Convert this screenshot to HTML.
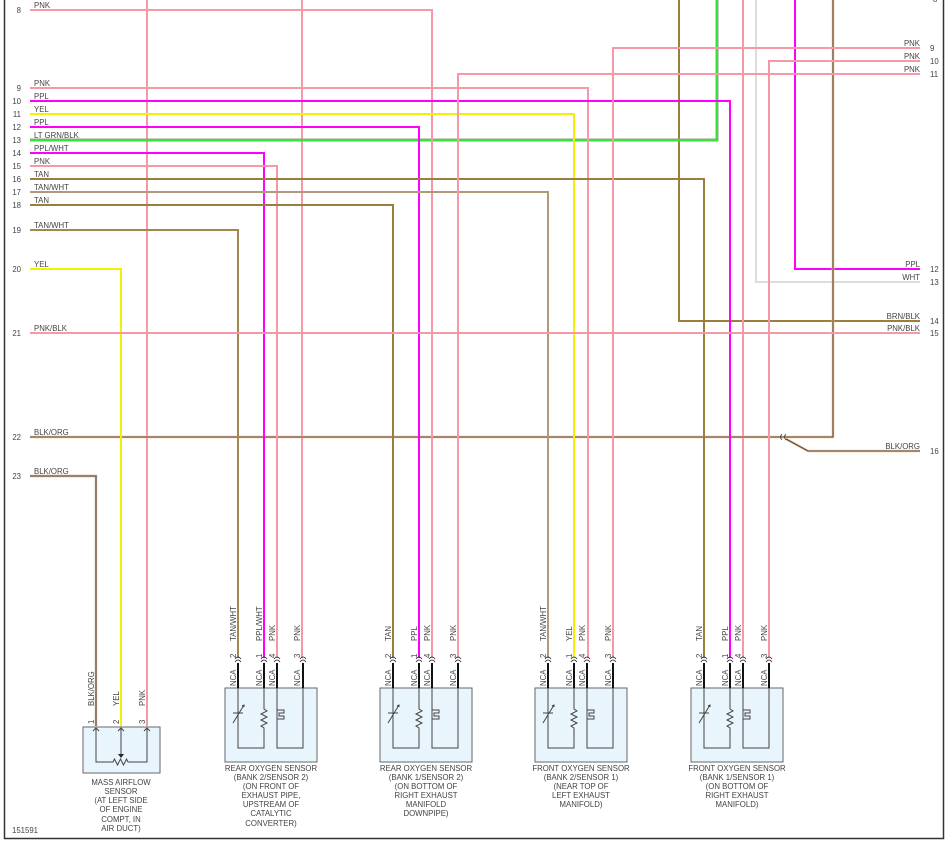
<!DOCTYPE html>
<html><head><meta charset="utf-8"><style>
html,body{margin:0;padding:0;background:#fff;}
svg{display:block;font-family:"Liberation Sans",sans-serif;}
text{fill:#444;font-size:7.8px;}
</style></head><body>
<svg width="951" height="842" viewBox="0 0 951 842" xmlns="http://www.w3.org/2000/svg">
<defs>
<g id="o2">
  <rect x="0" y="688" width="92" height="74" fill="#e9f5fc" stroke="#666" stroke-width="1"/>
  <g stroke="#111" stroke-width="2">
    <line x1="13" y1="663" x2="13" y2="688"/><line x1="39" y1="663" x2="39" y2="688"/>
    <line x1="52" y1="663" x2="52" y2="688"/><line x1="78" y1="663" x2="78" y2="688"/>
  </g>
  <g fill="none" stroke="#222" stroke-width="0.8">
    <path d="M10,662 q3,-4 6,0 M10,659 q3,-4 6,0"/>
    <path d="M36,662 q3,-4 6,0 M36,659 q3,-4 6,0"/>
    <path d="M49,662 q3,-4 6,0 M49,659 q3,-4 6,0"/>
    <path d="M75,662 q3,-4 6,0 M75,659 q3,-4 6,0"/>
  </g>
  <g fill="none" stroke="#444" stroke-width="1">
    <path d="M13,688 V748 H39 V728 l-3,-2 l6,-3 l-6,-3 l6,-3 l-6,-3 l6,-3 l-3,-2 V688"/>
    <path d="M52,688 V748 H78 V688"/>
    <path d="M52,710 h7 v3 h-5 v3 h5 v3 h-7"/>
    <path d="M8,723 L19,705 M17,706 l2,-1 l0,2 M8,713 h10"/>
  </g>
</g>
</defs>

<path d="M4.5,0 V838.5 H943.5 V0" fill="none" stroke="#333" stroke-width="1.5"/>
<text x="933" y="2">8</text>

<g fill="none" stroke-width="2">
  <line x1="147" y1="0" x2="147" y2="726" stroke="#f598a8"/>
  <line x1="302" y1="0" x2="302" y2="658" stroke="#f598a8"/>
  <path d="M679,0 V321 H920" stroke="#9a7e3c"/>
  <path d="M30,140 H717 V0" stroke="#9a9a9a" stroke-width="3"/>
  <path d="M30,140 H717 V0" stroke="#33e633"/>
  <line x1="743" y1="0" x2="743" y2="658" stroke="#f598a8"/>
  <path d="M756,0 V282 H920" stroke="#dcdcdc"/>
  <path d="M795,0 V269 H920" stroke="#ff00ff"/>
  <path d="M30,437 H833 V0" stroke="#f8c490" stroke-width="2.6"/>
  <path d="M30,437 H833 V0" stroke="#4a4a4a" stroke-width="1.1"/>
  <path d="M786,439 L808,451 H920" stroke="#f8c490" stroke-width="2.6"/>
  <path d="M786,439 L808,451 H920" stroke="#4a4a4a" stroke-width="1.1"/>
  <path d="M30,476 H96 V726" stroke="#c8a890" stroke-width="2.4"/>
  <path d="M30,476 H96 V726" stroke="#6a5a50" stroke-width="1.1"/>

  <path d="M30,10 H432 V658" stroke="#f598a8"/>
  <path d="M30,88 H588 V658" stroke="#f598a8"/>
  <path d="M30,101 H730 V658" stroke="#ff00ff"/>
  <path d="M30,114 H574 V658" stroke="#f2f200"/>
  <path d="M30,127 H419 V658" stroke="#ff00ff"/>
  <path d="M30,153 H264 V658" stroke="#ff00ff"/>
  <path d="M30,166 H277 V658" stroke="#f598a8"/>
  <path d="M30,179 H704 V658" stroke="#9a7e3c"/>
  <path d="M30,192 H548 V658" stroke="#b09a7a"/>
  <path d="M30,205 H393 V658" stroke="#9a7e3c"/>
  <path d="M30,230 H238 V658" stroke="#a08850"/>
  <path d="M30,269 H121 V726" stroke="#f2f200"/>
  <line x1="30" y1="333" x2="920" y2="333" stroke="#f598a8"/>
  <path d="M920,48 H613 V658" stroke="#f598a8"/>
  <path d="M920,61 H769 V658" stroke="#f598a8"/>
  <path d="M920,74 H458 V658" stroke="#f598a8"/>
</g>
<path d="M782,434 q-3,3 0,6 M786,434 q-3,3 0,6" fill="none" stroke="#333" stroke-width="0.8"/>

<g text-anchor="end">
<text x="21" y="13">8</text><text x="21" y="91">9</text><text x="21" y="104">10</text>
<text x="21" y="117">11</text><text x="21" y="130">12</text><text x="21" y="143">13</text>
<text x="21" y="156">14</text><text x="21" y="169">15</text><text x="21" y="182">16</text>
<text x="21" y="195">17</text><text x="21" y="208">18</text><text x="21" y="233">19</text>
<text x="21" y="272">20</text><text x="21" y="336">21</text><text x="21" y="440">22</text>
<text x="21" y="479">23</text>
</g>
<g>
<text x="34" y="8">PNK</text><text x="34" y="86">PNK</text><text x="34" y="99">PPL</text>
<text x="34" y="112">YEL</text><text x="34" y="125">PPL</text><text x="34" y="138">LT GRN/BLK</text>
<text x="34" y="151">PPL/WHT</text><text x="34" y="164">PNK</text><text x="34" y="177">TAN</text>
<text x="34" y="190">TAN/WHT</text><text x="34" y="203">TAN</text><text x="34" y="228">TAN/WHT</text>
<text x="34" y="267">YEL</text><text x="34" y="331">PNK/BLK</text><text x="34" y="435">BLK/ORG</text>
<text x="34" y="474">BLK/ORG</text>
</g>
<g text-anchor="end">
<text x="920" y="46">PNK</text><text x="920" y="59">PNK</text><text x="920" y="72">PNK</text>
<text x="920" y="267">PPL</text><text x="920" y="280">WHT</text><text x="920" y="319">BRN/BLK</text>
<text x="920" y="331">PNK/BLK</text><text x="920" y="449">BLK/ORG</text>
</g>
<g>
<text x="930" y="51">9</text><text x="930" y="64">10</text><text x="930" y="77">11</text>
<text x="930" y="272">12</text><text x="930" y="285">13</text><text x="930" y="324">14</text>
<text x="930" y="336">15</text><text x="930" y="454">16</text>
</g>

<use href="#o2" transform="translate(225,0)"/>
<use href="#o2" transform="translate(380,0)"/>
<use href="#o2" transform="translate(535,0)"/>
<use href="#o2" transform="translate(691,0)"/>

<g>
<g transform="translate(236,686) rotate(-90)"><text>NCA</text></g>
<g transform="translate(262,686) rotate(-90)"><text>NCA</text></g>
<g transform="translate(275,686) rotate(-90)"><text>NCA</text></g>
<g transform="translate(300,686) rotate(-90)"><text>NCA</text></g>
<g transform="translate(391,686) rotate(-90)"><text>NCA</text></g>
<g transform="translate(417,686) rotate(-90)"><text>NCA</text></g>
<g transform="translate(430,686) rotate(-90)"><text>NCA</text></g>
<g transform="translate(456,686) rotate(-90)"><text>NCA</text></g>
<g transform="translate(546,686) rotate(-90)"><text>NCA</text></g>
<g transform="translate(572,686) rotate(-90)"><text>NCA</text></g>
<g transform="translate(585,686) rotate(-90)"><text>NCA</text></g>
<g transform="translate(611,686) rotate(-90)"><text>NCA</text></g>
<g transform="translate(702,686) rotate(-90)"><text>NCA</text></g>
<g transform="translate(728,686) rotate(-90)"><text>NCA</text></g>
<g transform="translate(741,686) rotate(-90)"><text>NCA</text></g>
<g transform="translate(767,686) rotate(-90)"><text>NCA</text></g>

<g transform="translate(236,658) rotate(-90)"><text>2</text></g>
<g transform="translate(262,658) rotate(-90)"><text>1</text></g>
<g transform="translate(275,658) rotate(-90)"><text>4</text></g>
<g transform="translate(300,658) rotate(-90)"><text>3</text></g>
<g transform="translate(391,658) rotate(-90)"><text>2</text></g>
<g transform="translate(417,658) rotate(-90)"><text>1</text></g>
<g transform="translate(430,658) rotate(-90)"><text>4</text></g>
<g transform="translate(456,658) rotate(-90)"><text>3</text></g>
<g transform="translate(546,658) rotate(-90)"><text>2</text></g>
<g transform="translate(572,658) rotate(-90)"><text>1</text></g>
<g transform="translate(585,658) rotate(-90)"><text>4</text></g>
<g transform="translate(611,658) rotate(-90)"><text>3</text></g>
<g transform="translate(702,658) rotate(-90)"><text>2</text></g>
<g transform="translate(728,658) rotate(-90)"><text>1</text></g>
<g transform="translate(741,658) rotate(-90)"><text>4</text></g>
<g transform="translate(767,658) rotate(-90)"><text>3</text></g>

<g transform="translate(236,641) rotate(-90)"><text>TAN/WHT</text></g>
<g transform="translate(262,641) rotate(-90)"><text>PPL/WHT</text></g>
<g transform="translate(275,641) rotate(-90)"><text>PNK</text></g>
<g transform="translate(300,641) rotate(-90)"><text>PNK</text></g>
<g transform="translate(391,641) rotate(-90)"><text>TAN</text></g>
<g transform="translate(417,641) rotate(-90)"><text>PPL</text></g>
<g transform="translate(430,641) rotate(-90)"><text>PNK</text></g>
<g transform="translate(456,641) rotate(-90)"><text>PNK</text></g>
<g transform="translate(546,641) rotate(-90)"><text>TAN/WHT</text></g>
<g transform="translate(572,641) rotate(-90)"><text>YEL</text></g>
<g transform="translate(585,641) rotate(-90)"><text>PNK</text></g>
<g transform="translate(611,641) rotate(-90)"><text>PNK</text></g>
<g transform="translate(702,641) rotate(-90)"><text>TAN</text></g>
<g transform="translate(728,641) rotate(-90)"><text>PPL</text></g>
<g transform="translate(741,641) rotate(-90)"><text>PNK</text></g>
<g transform="translate(767,641) rotate(-90)"><text>PNK</text></g>

<g transform="translate(94,724) rotate(-90)"><text>1</text></g>
<g transform="translate(119,724) rotate(-90)"><text>2</text></g>
<g transform="translate(145,724) rotate(-90)"><text>3</text></g>
<g transform="translate(94,706) rotate(-90)"><text>BLK/ORG</text></g>
<g transform="translate(119,706) rotate(-90)"><text>YEL</text></g>
<g transform="translate(145,706) rotate(-90)"><text>PNK</text></g>
</g>

<rect x="83" y="727" width="77" height="46" fill="#e9f5fc" stroke="#666" stroke-width="1"/>
<g fill="none" stroke="#444" stroke-width="1">
  <path d="M96,728 V762 H113 l1.5,-3 l3,6 l3,-6 l3,6 l3,-6 l1.5,3 H147 V728"/>
  <path d="M121,728 V755"/>
  <path d="M93,731 l3,-3 l3,3 M118,731 l3,-3 l3,3 M144,731 l3,-3 l3,3"/>
</g>
<path d="M118,754 h6 l-3,4 z" fill="#222"/>

<g text-anchor="middle" fill="#555">
<text x="121" y="785">MASS AIRFLOW</text><text x="121" y="794">SENSOR</text>
<text x="121" y="803">(AT LEFT SIDE</text><text x="121" y="812">OF ENGINE</text>
<text x="121" y="822">COMPT, IN</text><text x="121" y="831">AIR DUCT)</text>

<text x="271" y="771">REAR OXYGEN SENSOR</text><text x="271" y="780">(BANK 2/SENSOR 2)</text>
<text x="271" y="789">(ON FRONT OF</text><text x="271" y="798">EXHAUST PIPE,</text>
<text x="271" y="807">UPSTREAM OF</text><text x="271" y="816">CATALYTIC</text>
<text x="271" y="826">CONVERTER)</text>

<text x="426" y="771">REAR OXYGEN SENSOR</text><text x="426" y="780">(BANK 1/SENSOR 2)</text>
<text x="426" y="789">(ON BOTTOM OF</text><text x="426" y="798">RIGHT EXHAUST</text>
<text x="426" y="807">MANIFOLD</text><text x="426" y="816">DOWNPIPE)</text>

<text x="581" y="771">FRONT OXYGEN SENSOR</text><text x="581" y="780">(BANK 2/SENSOR 1)</text>
<text x="581" y="789">(NEAR TOP OF</text><text x="581" y="798">LEFT EXHAUST</text>
<text x="581" y="807">MANIFOLD)</text>

<text x="737" y="771">FRONT OXYGEN SENSOR</text><text x="737" y="780">(BANK 1/SENSOR 1)</text>
<text x="737" y="789">(ON BOTTOM OF</text><text x="737" y="798">RIGHT EXHAUST</text>
<text x="737" y="807">MANIFOLD)</text>
</g>
<text x="12" y="833">151591</text>
</svg>
</body></html>
